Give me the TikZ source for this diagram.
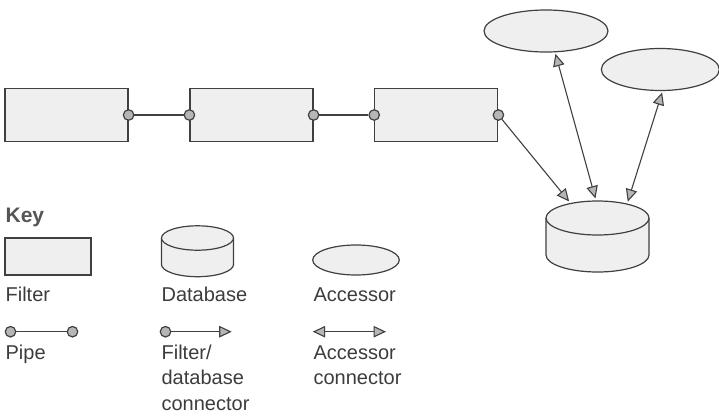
\documentclass[tikz,border=0pt]{standalone}
\usepackage{fontspec}
\setmainfont{Liberation Sans}
\usetikzlibrary{shapes.geometric,arrows.meta}
\definecolor{ln}{HTML}{404040}
\definecolor{fl}{HTML}{EEEFEE}
\definecolor{cg}{HTML}{B5B6B6}
\definecolor{tx}{HTML}{3C3C3C}
\definecolor{kg}{HTML}{555555}
\begin{document}
\begin{tikzpicture}[x=1pt,y=-1pt, line width=1.2pt, draw=ln,
  >={Triangle[length=12.5pt,width=11.5pt,fill=cg]},
  filterbox/.style={rectangle, draw=ln, fill=fl, inner sep=0pt, minimum width=123pt, minimum height=53pt},
  port/.style={circle, draw=ln, fill=cg, inner sep=0pt, minimum size=10.5pt},
  accessor/.style={ellipse, draw=ln, fill=fl, inner sep=0pt},
  dbtop/.style={ellipse, draw=ln, fill=fl, inner sep=0pt},
  conn/.style={draw=ln, line width=1.1pt},
  lbl/.style={font=\fontsize{20}{25.5}\selectfont, text=tx, inner sep=0pt, anchor=base west, align=left},
]
\useasboundingbox (0,0) rectangle (719,415);

% filters
\node[filterbox] (f1) at (66.5,115) {};
\node[filterbox] (f2) at (251.5,115) {};
\node[filterbox] (f3) at (436.3,115) {};
\node[port] (p1r) at (f1.east) {};
\node[port] (p2l) at (f2.west) {};
\node[port] (p2r) at (f2.east) {};
\node[port] (p3l) at (f3.west) {};
\node[port] (p3r) at (f3.east) {};
\draw[conn] (p1r) -- (p2l);
\draw[conn] (p2r) -- (p3l);

% accessors
\node[accessor, minimum width=124pt, minimum height=42pt] (a1) at (546,31) {};
\node[accessor, minimum width=118pt, minimum height=42pt] (a2) at (660.3,69.5) {};

% database
\draw[draw=ln, fill=fl] (546,218) -- (546,255) arc[start angle=180, end angle=360, x radius=51.5pt, y radius=17pt] -- (649,218);
\node[dbtop, minimum width=103pt, minimum height=34pt] (db) at (597.5,218) {};

% connectors
\draw[conn, ->, shorten >=2pt] (p3r) -- (db.151.6);
\draw[conn, <->, shorten >=2pt, shorten <=1.5pt] (a1.-67) -- (db.95);
\draw[conn, <->, shorten >=2pt, shorten <=1.5pt] (a2.-84) -- (db.26);

% key
\node[font=\fontsize{21}{25}\selectfont\bfseries, text=kg, inner sep=0pt, anchor=base west] (keyt) at (5,222.3) {Key};
\node[rectangle, draw=ln, fill=fl, inner sep=0pt, minimum width=86pt, minimum height=37pt] (kf) at (48,256.5) {};
\draw[draw=ln, fill=fl] (161.5,238) -- (161.5,264.5) arc[start angle=180, end angle=360, x radius=36pt, y radius=12.2pt] -- (233.5,238);
\node[dbtop, minimum width=72pt, minimum height=24.4pt] (kdb) at (197.5,238) {};
\node[accessor, minimum width=86.6pt, minimum height=30pt] (ka) at (356,260) {};

\node[lbl] (lf) at (5,301.5) {Filter};
\node[lbl] (ld) at (161,301.5) {Database};
\node[lbl] (la) at (313,301.5) {Accessor};

\node[port] (kp1) at (10.5,331.7) {};
\node[port] (kp2) at (72.5,331.7) {};
\draw[conn] (kp1) -- (kp2);
\node[port] (kc) at (165.5,331.7) {};
\coordinate (kce) at (231.7,331.7);
\draw[conn, ->] (kc) -- (kce);
\coordinate (ka1) at (312.7,331.7);
\coordinate (ka2) at (386,331.7);
\draw[conn, <->] (ka1) -- (ka2);

\node[lbl] (lp) at (5,359) {Pipe};
\node[lbl] (lfd) at (161,410) {Filter/\\database\\connector};
\node[lbl] (lac) at (313,384.5) {Accessor\\connector};
\end{tikzpicture}
\end{document}
